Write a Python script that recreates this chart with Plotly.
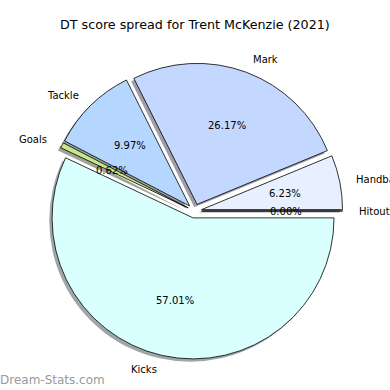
import math
import plotly.graph_objects as go

# ---- data ----
categories = ["Kicks", "Goals", "Tackle", "Mark", "Handball", "Hitout"]
percent_values = [57.01, 0.62, 9.97, 26.17, 6.23, 0.00]
slice_colors = ["#d9ffff", "#c8e68c", "#b4d6ff", "#c4d8ff", "#e8f0ff", "#f0f0ff"]
pulls = [0.05, 0.05, 0.05, 0.05, 0.05, 0.05]
title_text = "DT score spread for Trent McKenzie (2021)"
watermark = "Dream-Stats.com"

W = H = 390
max_pull = max(pulls)
radius_px = 141
box = 2 * radius_px * (1 + max_pull)
cx, cy = 194.6, 390 - 211  # centre in px from left / bottom
xd = [(cx - box / 2) / W, (cx + box / 2) / W]
yd = [(cy - box / 2) / H, (cy + box / 2) / H]
sh = 2.8 / W  # shadow offset

# overlay axes (unit = pie radius) for label placement
x_lo, x_hi = -1.35, 1.35
y_lo, y_hi = -1.25, 1.3
axd_x = [(cx + x_lo * radius_px) / W, (cx + x_hi * radius_px) / W]
axd_y = [(cy + y_lo * radius_px) / H, (cy + y_hi * radius_px) / H]


def shadow_col(hx):
    r, g, b = (int(hx[i:i + 2], 16) for i in (1, 3, 5))
    return f"rgba({int(r*0.3)},{int(g*0.3)},{int(b*0.3)},0.5)"


fig = go.Figure()
# shadow pie
fig.add_trace(go.Pie(
    labels=categories, values=percent_values, sort=False, direction="clockwise",
    rotation=90, pull=pulls, textinfo="none", hoverinfo="skip", showlegend=False,
    marker=dict(colors=[shadow_col(c) for c in slice_colors], line=dict(width=0)),
    domain=dict(x=[xd[0] - sh, xd[1] - sh], y=[yd[0] - sh, yd[1] - sh]),
))
# main pie
fig.add_trace(go.Pie(
    labels=categories, values=percent_values, sort=False, direction="clockwise",
    rotation=90, pull=pulls, textinfo="none", showlegend=False,
    marker=dict(colors=slice_colors, line=dict(color="black", width=0.8)),
    domain=dict(x=xd, y=yd),
))
# invisible helper trace for overlay axes
fig.add_trace(go.Scatter(x=[0], y=[0], mode="markers", marker=dict(opacity=0),
                         hoverinfo="skip", showlegend=False))

total = sum(percent_values)
start = 0.0
annotations = []
font_small = dict(family="DejaVu Sans", size=10, color="black")
for name, v, p in zip(categories, percent_values, pulls):
    span = v / total * 360
    mid = math.radians(start - span / 2)
    start -= span
    c, s = math.cos(mid), math.sin(mid)
    ox, oy = p * c, p * s
    annotations.append(dict(x=ox + 0.6 * c, y=oy + 0.6 * s, xref="x", yref="y",
                            text=f"{v:.2f}%", showarrow=False, font=font_small,
                            xanchor="center", yanchor="middle"))
    annotations.append(dict(x=ox + 1.1 * c, y=oy + 1.1 * s, xref="x", yref="y",
                            text=name, showarrow=False, font=font_small,
                            xanchor="left" if c > 0 else "right", yanchor="middle"))

annotations.append(dict(x=0.5, y=1 - 25 / H, xref="paper", yref="paper", text=title_text,
                        showarrow=False, font=dict(family="DejaVu Sans", size=12.7, color="black"),
                        xanchor="center", yanchor="middle"))
annotations.append(dict(x=0, y=1 - 380 / H, xref="paper", yref="paper", text=watermark,
                        showarrow=False, font=dict(family="DejaVu Sans", size=12, color="#9a9a9a"),
                        xanchor="left", yanchor="middle", xshift=-2))

fig.update_layout(
    width=W, height=H, margin=dict(l=0, r=0, t=0, b=0),
    paper_bgcolor="white", plot_bgcolor="rgba(0,0,0,0)",
    xaxis=dict(domain=axd_x, range=[x_lo, x_hi], visible=False, fixedrange=True),
    yaxis=dict(domain=axd_y, range=[y_lo, y_hi], visible=False, fixedrange=True),
    annotations=annotations,
)
fig.write_html("out.html", config={"displayModeBar": False},
               post_script="document.body.style.margin='0';")
